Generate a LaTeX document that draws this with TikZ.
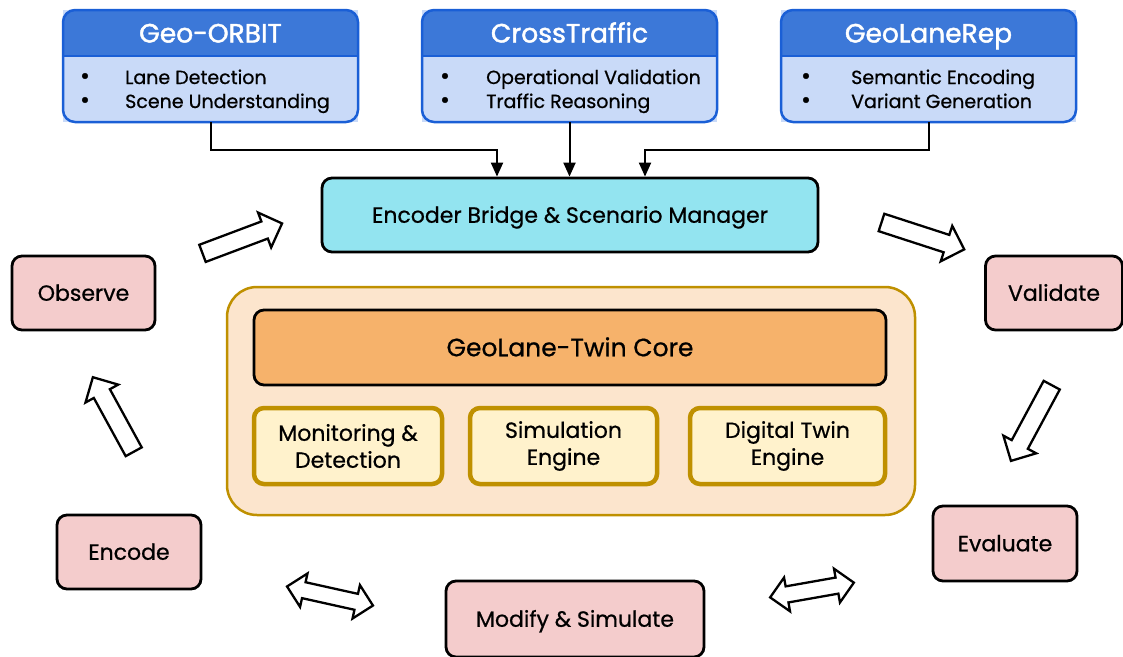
\documentclass[tikz,border=0pt]{standalone}
\usepackage{fontspec}
\setmainfont{Poppins}[FakeBold=0.7]
\newfontfamily\titlefont{Poppins}[FakeBold=1.6]
\usetikzlibrary{shapes.arrows,arrows.meta}
\definecolor{hdr}{HTML}{3C78D8}
\definecolor{bord}{HTML}{1A5FD6}
\definecolor{bodyblue}{HTML}{C9DAF8}
\definecolor{enccol}{HTML}{93E4F0}
\definecolor{pinkcol}{HTML}{F4CCCC}
\definecolor{outercol}{HTML}{FCE5CD}
\definecolor{goldcol}{HTML}{BF9000}
\definecolor{corecol}{HTML}{F6B26B}
\definecolor{subcol}{HTML}{FFF2CC}
\newcommand\TopBox[7]{%
  \node[topbox] (#1) at (#2+147.5,66) {};
  \begin{scope}
    \clip[rounded corners=12pt] (#1.north west) rectangle (#1.south east);
    \fill[hdr] (#1.north west) rectangle ([yshift=-46pt]#1.north east);
  \end{scope}
  \draw[bord,line width=2.5pt] ([yshift=-46pt]#1.north west) -- ([yshift=-46pt]#1.north east);
  \draw[bord,line width=2.5pt,rounded corners=12pt] (#1.north west) rectangle (#1.south east);
  \node[titletext] (#1-t) at (#2+147.5,42.5) {#3};
  \node[bullettext] (#1-b1) at (#4,84) {\textbullet};
  \node[bullettext] (#1-b2) at (#4,108) {\textbullet};
  \node[itemtext] (#1-i1) at (#5,84) {#6};
  \node[itemtext] (#1-i2) at (#5,108) {#7};
}
\begin{document}
\begin{tikzpicture}[x=1pt,y=-1pt,
  topbox/.style={fill=bodyblue,minimum width=295pt,minimum height=112pt,inner sep=0pt,outer sep=0pt},
  titletext/.style={anchor=base,text=white,font=\titlefont\fontsize{26.5}{30}\selectfont,inner sep=0pt},
  itemtext/.style={anchor=base west,font=\fontsize{19}{22}\selectfont,inner sep=0pt},
  bullettext/.style={anchor=base,font=\fontsize{24}{22}\selectfont,inner sep=0pt},
  rbox/.style={draw=black,line width=2.8pt,rounded corners=10pt,inner sep=0pt,align=center,text depth=0pt},
  pinkbox/.style={rbox,fill=pinkcol,minimum width=143pt,minimum height=74pt,font=\fontsize{22}{26}\selectfont,text height=15.5pt},
  subbox/.style={draw=goldcol,line width=4.5pt,fill=subcol,rounded corners=10pt,inner sep=0pt,align=center,minimum height=76pt,font=\fontsize{22}{27}\selectfont},
  conn/.style={line width=2pt,-{Triangle[length=14pt,width=12pt]}},
  blockarrow/.style={single arrow,draw=black,fill=white,line width=2.3pt,inner xsep=0pt,inner ysep=8pt,minimum width=0pt,single arrow head extend=9.5pt,single arrow head indent=0pt},
  dblarrow/.style={double arrow,draw=black,fill=white,line width=2.3pt,inner xsep=0pt,inner ysep=7pt,minimum width=0pt,double arrow head extend=9pt,double arrow head indent=0pt}
]
\useasboundingbox (0,0) rectangle (1123,656);

\TopBox{orbit}{63}{Geo-ORBIT}{85}{125}{Lane Detection}{Scene Understanding}
\TopBox{cross}{422}{CrossTraffic}{445}{486}{Operational Validation}{Traffic Reasoning}
\TopBox{lanerep}{781}{GeoLaneRep}{806}{851}{Semantic Encoding}{Variant Generation}

\node[rbox,fill=enccol,minimum width=496pt,minimum height=74pt,font=\fontsize{22}{26}\selectfont,text height=15.5pt] (enc) at (570,215) {Encoder Bridge \& Scenario Manager};

\draw[conn] (orbit.south) -- ++(0,28) -| ([xshift=-73pt]enc.north);
\draw[conn] (cross.south) -- (cross.south |- enc.north);
\draw[conn] (lanerep.south) -- ++(0,28) -| ([xshift=75pt]enc.north);

\node[draw=goldcol,line width=2.5pt,fill=outercol,rounded corners=30pt,minimum width=688pt,minimum height=228pt] (outer) at (571,401) {};
\node[rbox,fill=corecol,minimum width=632pt,minimum height=75pt,font=\fontsize{25}{28}\selectfont,text height=17.5pt] (core) at (570,347.5) {GeoLane-Twin Core};
\node[subbox,minimum width=188pt] (mon) at (348,446) {Monitoring \&\\Detection};
\node[subbox,minimum width=187pt] (sim) at (563.5,446) {Simulation\\Engine};
\node[subbox,minimum width=195pt] (dt) at (787.5,446) {Digital Twin\\Engine};

\node[pinkbox] (observe) at (83.5,293) {Observe};
\node[pinkbox,minimum width=137pt] (validate) at (1054,293) {Validate};
\node[pinkbox,minimum width=144pt] (encode) at (129,552) {Encode};
\node[pinkbox,minimum width=144pt,minimum height=75pt] (evaluate) at (1005,543.5) {Evaluate};
\node[pinkbox,minimum width=258pt,minimum height=76pt] (modify) at (575,619) {Modify \& Simulate};

\node[blockarrow,minimum height=85pt,rotate=20.6] (a1) at (238,240) {};
\node[blockarrow,minimum height=87pt,rotate=-18] (a2) at (918.5,234.5) {};
\node[blockarrow,minimum height=86pt,rotate=-118.3] (a3) at (1033.5,419) {};
\node[blockarrow,minimum height=85pt,rotate=118.7] (a4) at (115.5,418.5) {};
\node[dblarrow,minimum height=88pt,rotate=-12.5] (d1) at (330,596) {};
\node[dblarrow,minimum height=85pt,rotate=10] (d2) at (812,590) {};
\end{tikzpicture}
\end{document}
